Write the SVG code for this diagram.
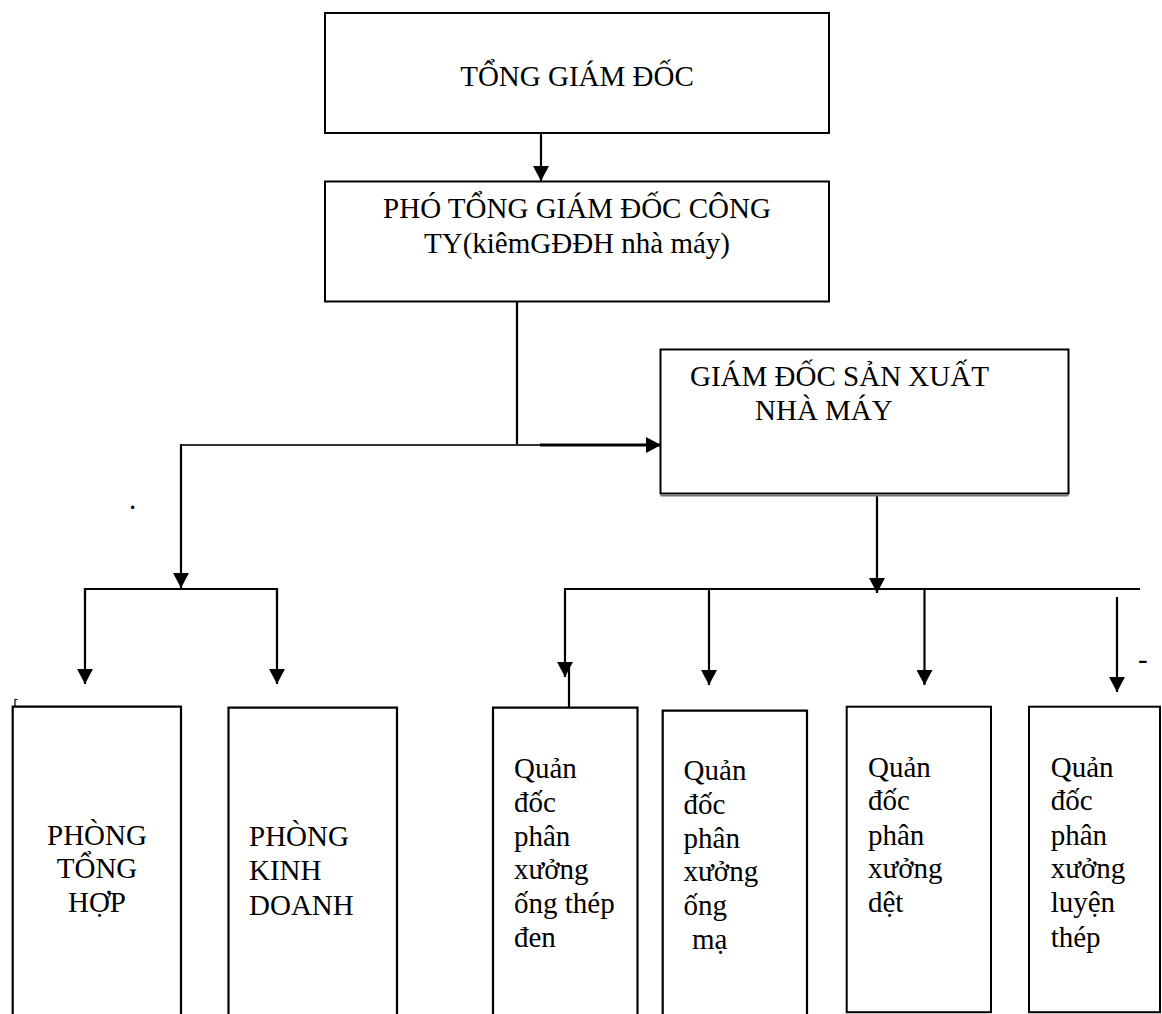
<svg xmlns="http://www.w3.org/2000/svg" width="1162" height="1014" viewBox="0 0 1162 1014">
<style>
.box{fill:#fff;stroke:#000;stroke-width:2}
.t{font-family:"Liberation Serif","Times New Roman",serif;font-size:29px;fill:#000}
.c{text-anchor:middle}
.ln{fill:none;stroke:#000;stroke-width:2.2}
</style>
<defs>
<marker id="ah" viewBox="0 0 15 16" refX="15" refY="8" markerWidth="15" markerHeight="16" markerUnits="userSpaceOnUse" orient="auto">
<path d="M0,0 L15,8 L0,16 z" fill="#000"/>
</marker>
</defs>
<rect width="1162" height="1014" fill="#fff"/>
<g id="connectors">
<line class="ln" x1="541" y1="133" x2="541" y2="181" marker-end="url(#ah)"/>
<line class="ln" x1="517" y1="302" x2="517" y2="445" stroke-width="1.5"/>
<line x1="181" y1="445" x2="540" y2="445" stroke="#333" stroke-width="2"/>
<line x1="540" y1="445" x2="661" y2="445" stroke="#000" stroke-width="3" marker-end="url(#ah)"/>
<line class="ln" x1="181" y1="444" x2="181" y2="588" stroke-width="2.5" marker-end="url(#ah)"/>
<polyline class="ln" points="85,600 85,589 277,589 277,600"/>
<line class="ln" x1="85" y1="589" x2="85" y2="684" marker-end="url(#ah)"/>
<line class="ln" x1="277" y1="589" x2="277" y2="684" marker-end="url(#ah)"/>
<line class="ln" x1="877" y1="496" x2="877" y2="593" marker-end="url(#ah)"/>
<line class="ln" x1="565" y1="589" x2="1140" y2="589"/>
<line class="ln" x1="565" y1="588" x2="565" y2="677" marker-end="url(#ah)"/>
<line class="ln" x1="569" y1="668" x2="569" y2="708"/>
<line class="ln" x1="709" y1="589" x2="709" y2="685" marker-end="url(#ah)"/>
<line class="ln" x1="924.5" y1="589" x2="924.5" y2="685" marker-end="url(#ah)"/>
<line class="ln" x1="1117" y1="597" x2="1117" y2="692" marker-end="url(#ah)"/>
</g>
<g id="n-tgd">
<rect class="box" x="325" y="13" width="504" height="120"/>
<text class="t c" x="577" y="86">TỔNG GIÁM ĐỐC</text>
</g>
<g id="n-ptgd">
<rect class="box" x="325" y="181.5" width="504" height="120"/>
<text class="t c" x="577" y="218">PHÓ TỔNG GIÁM ĐỐC CÔNG</text>
<text class="t c" x="577" y="253">TY(kiêmGĐĐH nhà máy)</text>
</g>
<g id="n-gdsx">
<rect class="box" x="660.5" y="349.5" width="408" height="144"/>
<line x1="660.5" y1="495.5" x2="1068.5" y2="495.5" stroke="#777" stroke-width="2"/>
<text class="t" x="690" y="386">GIÁM ĐỐC SẢN XUẤT</text>
<text class="t" x="755" y="420">NHÀ MÁY</text>
</g>
<g id="n-pth">
<path class="ln" d="M12.7,1016 V706.7 H181 V1016"/>
<path d="M15,706 V699.5 H17.5" fill="none" stroke="#000" stroke-width="1.2"/>
<text class="t c" x="97" y="845">PHÒNG</text>
<text class="t c" x="97" y="878">TỔNG</text>
<text class="t c" x="97" y="912">HỢP</text>
</g>
<g id="n-pkd">
<path class="ln" d="M228.5,1016 V707.7 H397 V1016"/>
<text class="t" x="249" y="846">PHÒNG</text>
<text class="t" x="249" y="880">KINH</text>
<text class="t" x="249" y="915">DOANH</text>
</g>
<g id="n-q1">
<path class="ln" d="M493,1016 V707.7 H637.5 V1016"/>
<text class="t" x="514" y="778">Quản</text>
<text class="t" x="514" y="812">đốc</text>
<text class="t" x="514" y="846">phân</text>
<text class="t" x="514" y="879">xưởng</text>
<text class="t" x="514" y="913">ống thép</text>
<text class="t" x="514" y="947">đen</text>
</g>
<g id="n-q2">
<path class="ln" d="M662.7,1016 V710.7 H807 V1016"/>
<text class="t" x="683.6" y="780">Quản</text>
<text class="t" x="683.6" y="814">đốc</text>
<text class="t" x="683.6" y="848">phân</text>
<text class="t" x="683.6" y="881">xưởng</text>
<text class="t" x="683.6" y="915">ống</text>
<text class="t" x="692" y="949">mạ</text>
</g>
<g id="n-q3">
<rect class="box" x="846.7" y="706.7" width="144.3" height="305.5"/>
<text class="t" x="868" y="777">Quản</text>
<text class="t" x="868" y="810">đốc</text>
<text class="t" x="868" y="845">phân</text>
<text class="t" x="868" y="878">xưởng</text>
<text class="t" x="868" y="912">dệt</text>
</g>
<g id="n-q4">
<rect class="box" x="1029" y="706.7" width="131" height="305.5"/>
<text class="t" x="1050.7" y="777">Quản</text>
<text class="t" x="1050.7" y="810">đốc</text>
<text class="t" x="1050.7" y="845">phân</text>
<text class="t" x="1050.7" y="878">xưởng</text>
<text class="t" x="1050.7" y="912">luyện</text>
<text class="t" x="1050.7" y="947">thép</text>
</g>
<text class="t" x="129" y="509" font-size="20">.</text>
<text class="t" x="1138" y="669">-</text>
</svg>
